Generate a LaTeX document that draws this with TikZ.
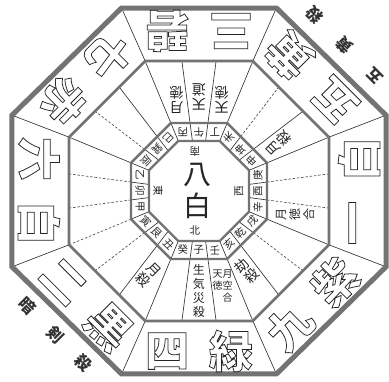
\documentclass[tikz,border=0pt]{standalone}
\usepackage{fontspec}
\newfontfamily\cjk{Noto Sans CJK JP}
\newcommand\hollow[1]{\special{pdf:literal direct 1 Tr 0.75 w}#1\special{pdf:literal direct 0 Tr}}
\begin{document}
\begin{tikzpicture}[x=1pt,y=1pt,
  band/.style={draw=black!55, line width=#1, line join=miter},
  rl/.style={draw=black!80, line width=0.65pt},
  dl/.style={draw=black!70, line width=0.65pt, dash pattern=on 2.5pt off 1.8pt},
  bigc/.style={font=\cjk\bfseries\fontsize{44}{44}\selectfont, text=black!85, inner sep=0pt},
  midc/.style={font=\cjk\fontsize{14}{15}\selectfont, text=black!85, inner sep=0pt, align=center},
  tinyc/.style={font=\cjk\fontsize{10}{12}\selectfont, text=black!85, inner sep=0pt, align=center},
  smc/.style={font=\cjk\fontsize{10.5}{10.5}\selectfont, text=black!85, inner sep=0pt},
  outc/.style={font=\cjk\bfseries\fontsize{16}{16}\selectfont, text=black!80, inner sep=0pt},
  cenc/.style={font=\cjk\fontsize{28}{28}\selectfont, text=black!85, inner sep=0pt},
]
\def\octo#1{(22.5:#1) -- (67.5:#1) -- (112.5:#1) -- (157.5:#1) -- (202.5:#1) -- (247.5:#1) -- (292.5:#1) -- (337.5:#1) -- cycle}
\useasboundingbox (-199,-190) rectangle (190,191);
\fill[white] (-199,-190) rectangle (190,191);
% dividers of the big ring
\foreach \t in {22.5,67.5,...,337.5}
  \draw[rl] (\t:140.7) -- ({202.4*cos(\t)},{198.1*sin(\t)});
% lines of the third ring
\foreach \t/\s in {7.5/dl,37.5/rl,52.5/dl,82.5/rl,97.5/rl,127.5/rl,142.5/dl,172.5/dl,187.5/dl,217.5/dl,232.5/rl,262.5/rl,277.5/rl,307.5/rl,322.5/dl,352.5/dl}
  \draw[\s] (\t:68.6) -- (\t:131.1);
\foreach \t/\s in {22.5/rl,67.5/rl,112.5/rl,157.5/rl,202.5/dl,247.5/rl,292.5/rl,337.5/rl}
  \draw[\s] (\t:73.6) -- (\t:140.7);
% dividers of the small ring
\foreach \k in {0,...,7}{
  \pgfmathsetmacro\ta{7.5+45*\k}
  \pgfmathsetmacro\tb{37.5+45*\k}
  \pgfmathsetmacro\tc{22.5+45*\k}
  \draw[rl] (\ta:50.43) -- (\ta:68.6);
  \draw[rl] (\tb:50.43) -- (\tb:68.6);
  \draw[rl] (\tc:54.12) -- (\tc:73.6);
}
% gray bands
\begin{scope}[xscale=1.0219]
  \draw[band=5pt] \octo{198.08};
\end{scope}
\draw[band=2.6pt] \octo{140.7};
\draw[band=2.4pt] \octo{73.6};
\draw[band=2.4pt] \octo{54.12};
% sector texts
\foreach \k/\ba/\bb/\sa/\sb/\sc in {0/四/緑/癸/子/壬, 1/九/紫/亥/乾/戌, 2/一/白/辛/酉/庚, 3/五/黄/申/坤/未, 4/三/碧/丁/午/丙, 5/七/赤/巳/巽/辰, 6/六/白/乙/卯/甲, 7/二/黒/寅/艮/丑}{
  \begin{scope}[rotate=45*\k, transform shape]
    \node[bigc] (b\k a) at (-32,-160) {\hollow{\ba}};
    \node[bigc] (b\k b) at (32,-160) {\hollow{\bb}};
    \node[smc] (s\k a) at (-16,-59) {\sa};
    \node[smc] (s\k b) at (0,-59) {\sb};
    \node[smc] (s\k c) at (16,-59) {\sc};
  \end{scope}
}
% third ring texts
\begin{scope}[rotate=0, transform shape]
  \node[midc, font=\cjk\fontsize{12}{14}\selectfont] (t0b) at (270:100) {生\\気\\災\\殺};
  \node[tinyc] (t0c) at (284:98) {天月\\徳空\\\hphantom{天}合};
\end{scope}
\begin{scope}[rotate=45, transform shape]
  \node[midc] (t1a) at (256:93) {劫\\殺};
\end{scope}
\begin{scope}[rotate=90, transform shape]
  \node[midc, font=\cjk\fontsize{12}{14}\selectfont] (t2a) at (256:99) {月\\徳\\合};
\end{scope}
\begin{scope}[rotate=135, transform shape]
  \node[midc] (t3a) at (256:93) {月\\殺};
  \node[outc] (o3a) at (-43,-206) {五};
  \node[outc] (o3b) at (0,-206) {黄};
  \node[outc] (o3c) at (43,-206) {殺};
\end{scope}
\begin{scope}[rotate=180, transform shape]
  \node[midc] (t4a) at (256:94) {天\\徳};
  \node[midc] (t4b) at (270:94) {天\\道};
  \node[midc] (t4c) at (284:94) {月\\徳};
\end{scope}
\begin{scope}[rotate=315, transform shape]
  \node[midc] (t7c) at (284:98) {月\\殺};
  \node[outc] (o7a) at (-40,-203) {暗};
  \node[outc] (o7b) at (0,-203) {剣};
  \node[outc] (o7c) at (40,-203) {殺};
\end{scope}
% centre
\node[cenc] (c1) at (-1,16) {八};
\node[cenc] (c2) at (-1,-15) {白};
\node[smc, rotate=180] (cs) at (-4,40) {南};
\node[smc] (cn) at (-4,-40) {北};
\node[smc, rotate=-90] (ce) at (-41,0) {東};
\node[smc, rotate=90] (cw) at (40,0) {西};
\end{tikzpicture}
\end{document}
